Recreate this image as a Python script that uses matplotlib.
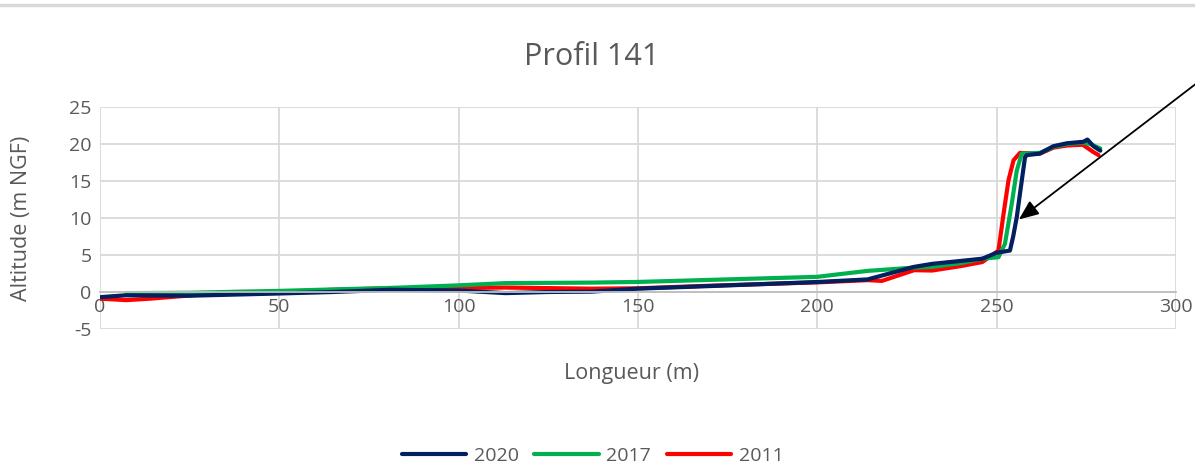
import matplotlib
matplotlib.use('Agg')
import matplotlib.pyplot as plt
from matplotlib.lines import Line2D

plt.rcParams['font.family'] = ['Open Sans', 'DejaVu Sans']
plt.rcParams['axes.unicode_minus'] = False

# profil 141 - longueur (m) / altitude (m NGF)
x_2020 = [0, 7, 25, 50, 65, 81, 100, 113, 125, 137, 150, 170, 200, 214, 227, 232, 240, 246, 250,
          253.7, 254.6, 255.6, 256.5, 257.9, 258.4, 262, 263.5, 265.8, 269.6, 274.2, 275.3, 277, 278.9]
y_2020 = [-0.7, -0.45, -0.5, -0.2, 0, 0.3, 0.2, -0.15, 0.0, 0.05, 0.45, 0.8, 1.35, 1.7, 3.4, 3.8, 4.2, 4.5, 5.3,
          5.6, 7.5, 10.1, 13.3, 18.2, 18.5, 18.7, 19.1, 19.7, 20.1, 20.3, 20.6, 19.7, 19.1]

x_2017 = [7.4, 25, 50, 65, 81, 100, 113, 137, 150, 200, 206, 214, 227, 232, 240, 246, 250.5,
          252.3, 254.2, 255.6, 257, 262, 263.5, 265.8, 269.6, 274, 276, 278.9]
y_2017 = [-0.15, -0.1, 0.15, 0.35, 0.55, 0.9, 1.2, 1.27, 1.36, 2.05, 2.4, 2.85, 3.3, 3.4, 3.9, 4.5, 4.7,
          6.5, 11.9, 16.4, 18.7, 18.8, 19.1, 19.6, 20.0, 20.2, 20.0, 19.4]

x_2011 = [0, 7.4, 14, 37, 50, 65, 81, 100, 113, 137, 150, 170, 200, 214, 218, 227, 232, 240, 246, 250.5,
          251.9, 253.3, 254.7, 256.5, 262, 263.5, 265.8, 269.6, 274, 277, 278.4]
y_2011 = [-0.9, -1.1, -0.9, 0, 0.0, 0.3, 0.5, 0.55, 0.6, 0.45, 0.5, 0.85, 1.3, 1.6, 1.5, 2.95, 2.9, 3.5, 4.05, 5.6,
          10.5, 15.1, 17.8, 18.8, 18.7, 19.0, 19.5, 19.8, 19.9, 18.9, 18.5]

x_ticks = [0, 50, 100, 150, 200, 250, 300]
y_ticks = [-5, 0, 5, 10, 15, 20, 25]

grey = '#595959'
grid_col = '#d9d9d9'

fig = plt.figure(figsize=(11.95, 4.70), dpi=100)
ax = fig.add_axes([100/1195, 141/470, 1076/1195, 222/470])

ax.plot(x_2011, y_2011, color='#ff0000', lw=3, label='2011', solid_capstyle='round')
ax.plot(x_2017, y_2017, color='#00b050', lw=3, label='2017', solid_capstyle='round')
ax.plot(x_2020, y_2020, color='#002060', lw=3, label='2020', solid_capstyle='round')

ax.set_xlim(0, 300)
ax.set_ylim(-5, 25)
ax.set_xticks(x_ticks)
ax.set_yticks(y_ticks)
ax.grid(True, color=grid_col, lw=1.3)
ax.set_axisbelow(True)
for s in ['top', 'right', 'left']:
    ax.spines[s].set_visible(False)
ax.spines['bottom'].set_position(('data', 0))
ax.spines['bottom'].set_color('#bfbfbf')
ax.spines['bottom'].set_linewidth(1.3)
ax.tick_params(length=0, labelsize=14, labelcolor=grey)
ax.tick_params(axis='x', pad=4)
ax.tick_params(axis='y', pad=6)

ax.set_xlabel('Longueur (m)', fontsize=15.5, color=grey)
ax.xaxis.set_label_coords(0.494, -0.155)
ax.set_ylabel('Altitude (m NGF)', fontsize=15.5, color=grey)
ax.yaxis.set_label_coords(-0.063, 0.5)
fig.text(0.495, 0.878, 'Profil 141', ha='center', va='center', fontsize=22, color=grey)

ax.annotate('', xy=(256.2, 9.8), xytext=(306, 28.3),
            arrowprops=dict(arrowstyle='-|>,head_length=1.2,head_width=0.5', color='black', lw=1.3,
                            shrinkA=0, shrinkB=0),
            annotation_clip=False)

h, l = ax.get_legend_handles_labels()
fig.legend(h[::-1], l[::-1], loc='center', bbox_to_anchor=(0.496, 0.03), ncol=3, frameon=False,
           fontsize=14, labelcolor=grey, handlelength=3.3, columnspacing=0.8, handletextpad=0.4)

fig.add_artist(Line2D([0, 1], [1 - 5/470, 1 - 5/470], color=grid_col, lw=2.5))

fig.savefig('out.png', dpi=100)
